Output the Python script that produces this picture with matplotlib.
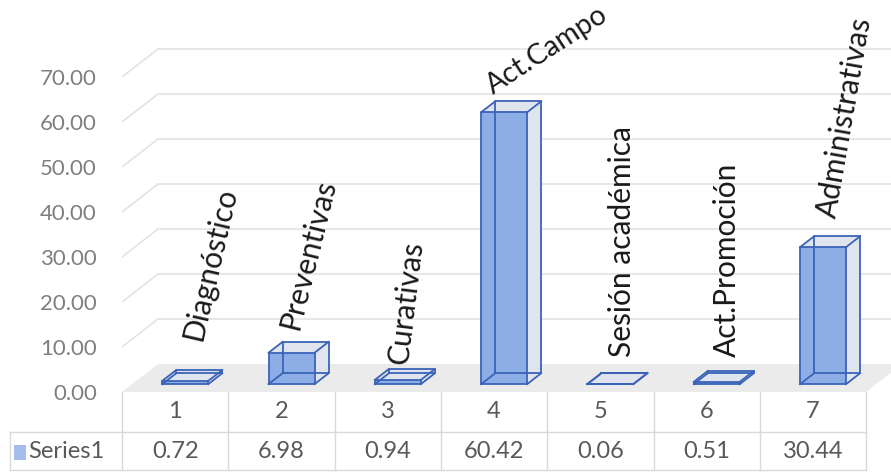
import numpy as np
import matplotlib
matplotlib.use("Agg")
import matplotlib.pyplot as plt
from matplotlib.patches import Polygon, Rectangle
from matplotlib.transforms import offset_copy

# ---- data -------------------------------------------------------------
categories = ["1", "2", "3", "4", "5", "6", "7"]
activities = ["Diagnóstico", "Preventivas", "Curativas", "Act.Campo",
              "Sesión académica", "Act.Promoción", "Administrativas"]
values = [0.72, 6.98, 0.94, 60.42, 0.06, 0.51, 30.44]
series_name = "Series1"
y_ticks = [0, 10, 20, 30, 40, 50, 60, 70]

# ---- styling / layout ---------------------------------------------------
W, H, DPI = 891, 474, 100
SX = 106.3          # pixels per category
SY = 4.5            # pixels per value unit
LEFT_PX, FLOOR_PX = 122, 392
DX = 36 / SX        # depth offset of the floor (categories)
DY = 28 / SY        # depth offset of the floor (value units)
Z0, Z1 = 0.28, 0.67  # front / back depth of the columns
BAR_W = 0.433

FRONT = "#8DADE6"
SIDE = "#DFE4EE"
EDGE = "#3A63B8"
FLOOR = "#EBEBEB"
GRID = "#E3E3E3"
TABLE_LINE = "#D9D9D9"
TXT_GRAY = "#7F7F7F"
TXT_DARK = "#595959"

# label rotation, size and shift (pixels right, pixels up) relative to column top
label_rot = [77, 76, 83, 33, 90, 90, 80]
label_size = [21.5, 21.5, 21.5, 20.5, 21.5, 21.5, 21.5]
label_shift = [(18, 32), (10, 15), (1, 9), (36, 8), (5, 21), (3, 19), (15, 22)]

plt.rcParams["font.family"] = ["Lato", "DejaVu Sans"]

fig = plt.figure(figsize=(W / DPI, H / DPI), dpi=DPI)
ax = fig.add_axes([LEFT_PX / W, (H - FLOOR_PX) / H, (W - LEFT_PX) / W, FLOOR_PX / H])
x_lo = 0.5
x_hi = 0.5 + (W - LEFT_PX) / SX
ax.set_xlim(x_lo, x_hi)
ax.set_ylim(0, FLOOR_PX / SY)
for s in ax.spines.values():
    s.set_visible(False)
ax.set_xticks([])
ax.set_yticks(y_ticks)
ax.set_yticklabels([f"{v:.2f}" for v in y_ticks])
ax.tick_params(axis="y", length=0, pad=18, labelsize=16, labelcolor=TXT_GRAY)
ax.patch.set_alpha(0)

n = len(values)
x_pos = np.arange(1, n + 1)
x_end = x_pos[-1] + 0.5

# floor
ax.add_patch(Polygon([(x_lo, 0), (x_end, 0), (x_end + DX, DY), (x_lo + DX, DY)],
                     closed=True, facecolor=FLOOR, edgecolor="none", zorder=1))

# back wall and side wall gridlines
for v in y_ticks[1:]:
    ax.plot([x_lo, x_lo + DX], [v, v + DY], color=GRID, lw=1.2, zorder=1,
            solid_capstyle="butt")
    ax.plot([x_lo + DX, x_hi + 1], [v + DY, v + DY], color=GRID, lw=1.2, zorder=1,
            clip_on=False)

# columns drawn as oblique boxes
ddx = (Z1 - Z0) * DX
ddy = (Z1 - Z0) * DY
for i, (x, v) in enumerate(zip(x_pos, values)):
    x0 = x - BAR_W / 2 + Z0 * DX
    x1 = x + BAR_W / 2 + Z0 * DX
    b = Z0 * DY
    t = v + Z0 * DY
    z = 3 + i * 0.01
    # right side
    ax.add_patch(Polygon([(x1, b), (x1 + ddx, b + ddy), (x1 + ddx, t + ddy), (x1, t)],
                         closed=True, facecolor=SIDE, edgecolor="none", zorder=z))
    # top
    ax.add_patch(Polygon([(x0, t), (x1, t), (x1 + ddx, t + ddy), (x0 + ddx, t + ddy)],
                         closed=True, facecolor=SIDE, edgecolor="none", zorder=z))
    # front
    ax.add_patch(Rectangle((x0, b), x1 - x0, t - b, facecolor=FRONT,
                           edgecolor="none", zorder=z))
    # all twelve edges
    fx = [x0, x1, x1, x0, x0]
    fy = [b, b, t, t, b]
    ax.plot(fx, fy, color=EDGE, lw=1.3, zorder=z + 0.005)
    ax.plot([p + ddx for p in fx], [p + ddy for p in fy], color=EDGE, lw=1.3,
            zorder=z + 0.005)
    for cx, cy in [(x0, b), (x1, b), (x1, t), (x0, t)]:
        ax.plot([cx, cx + ddx], [cy, cy + ddy], color=EDGE, lw=1.3, zorder=z + 0.005)

    # activity label above the column
    top_x = x + (Z0 + Z1) / 2 * DX
    top_y = v + (Z0 + Z1) / 2 * DY
    sx, sy = label_shift[i]
    tr = offset_copy(ax.transData, fig=fig, x=sx * 72 / DPI, y=sy * 72 / DPI,
                     units="points")
    ax.text(top_x, top_y, activities[i], transform=tr, rotation=label_rot[i],
            ha="center", va="bottom", fontsize=label_size[i], color="#1A1A1A",
            zorder=10, clip_on=False)

# data table below the floor
row1 = -40 / SY
row2 = -78 / SY
left_cell = x_lo - (LEFT_PX - 10) / SX
for k in range(n + 1):
    ax.plot([x_lo + k, x_lo + k], [0, row2], color=TABLE_LINE, lw=1, clip_on=False)
ax.plot([left_cell, left_cell], [row1, row2], color=TABLE_LINE, lw=1, clip_on=False)
for yy in (row1, row2):
    ax.plot([left_cell, x_end], [yy, yy], color=TABLE_LINE, lw=1, clip_on=False)

for x, c, v in zip(x_pos, categories, values):
    ax.text(x, row1 / 2, c, ha="center", va="center", fontsize=17,
            color=TXT_DARK, clip_on=False)
    ax.text(x, (row1 + row2) / 2, f"{v:.2f}", ha="center", va="center",
            fontsize=17, color=TXT_DARK, clip_on=False)

key_x = x_lo - (LEFT_PX - 14) / SX
key_y = -(460 - FLOOR_PX) / SY
ax.add_patch(Rectangle((key_x, key_y), 12 / SX, 15 / SY, facecolor="#A4BDEB",
                       edgecolor="none", clip_on=False))
ax.text(x_lo - (LEFT_PX - 28) / SX, (row1 + row2) / 2, series_name, ha="left",
        va="center", fontsize=17, color=TXT_DARK, clip_on=False)

fig.savefig("out.png", dpi=DPI)
